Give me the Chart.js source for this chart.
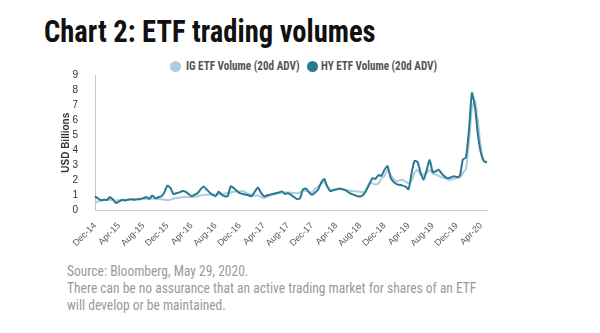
<!DOCTYPE html>
<html>
<head>
<meta charset="utf-8">
<script src="https://cdn.jsdelivr.net/npm/chart.js@4.4.1/dist/chart.umd.min.js"></script>
<style>
  html, body { margin:0; padding:0; background:#fff; width:600px; height:333px; overflow:hidden; }
  .cond { font-family:"Roboto Condensed","DejaVu Sans Condensed","Liberation Sans",sans-serif; white-space:nowrap; position:absolute; transform-origin:0 0; }
  #title { left:44px; top:12px; font-weight:bold; font-size:32px; color:#111; }
  #wrap { position:absolute; left:0; top:60px; width:600px; height:192px; }
  #legend { position:absolute; left:0; top:58px; width:600px; height:16px; }
  .dot { position:absolute; top:2.5px; width:11px; height:11px; border-radius:50%; }
  .lt { top:0px; font-size:12.5px; line-height:16px; font-weight:bold; color:#555; }
  .nl { left:67px; font-size:15px; line-height:17px; color:#9a9a9a; }
</style>
</head>
<body>
<div id="title" class="cond">Chart 2: ETF trading volumes</div>
<div id="legend"></div>
<div id="wrap"><canvas id="c"></canvas></div>
<div id="note"></div>
<script>
// Semi-monthly observations starting Dec-14
const startYear = 2014, startMonth = 11; // December 2014
const tickLabels = ["Dec-14","Apr-15","Aug-15","Dec-15","Apr-16","Aug-16","Dec-16","Apr-17","Aug-17","Dec-17","Apr-18","Aug-18","Dec-18","Apr-19","Aug-19","Dec-19","Apr-20"];
const seriesNames = ["IG ETF Volume (20d ADV)", "HY ETF Volume (20d ADV)"];
const seriesColors = ["#a9cfdd", "#2b7891"];
const noteLines = ["Source: Bloomberg, May 29, 2020.", "There can be no assurance that an active trading market for shares of an ETF", "will develop or be maintained."];
const igVolume = [
  0.53,0.60,0.68,0.70,0.70,0.72,0.70,0.65,0.68,0.72,0.72,0.73,0.75,0.74,0.76,0.75,
  0.76,0.78,0.77,0.80,0.78,0.76,0.75,0.72,0.70,0.72,0.80,0.82,0.85,0.88,0.90,0.88,
  0.89,0.92,0.95,1.00,1.05,1.05,1.05,1.05,1.05,1.10,1.10,1.12,1.16,1.20,1.25,1.30,
  1.27,1.30,1.20,1.10,1.05,1.00,1.00,0.90,0.82,0.90,1.00,1.05,1.10,1.15,1.20,1.19,
  1.20,1.18,1.16,1.15,1.20,1.35,1.30,1.25,1.20,1.45,1.60,1.75,1.90,1.60,1.40,1.38,
  1.40,1.42,1.40,1.36,1.33,1.30,1.28,1.26,1.25,1.20,1.45,1.82,1.80,1.72,1.80,2.10,
  2.30,2.70,2.40,2.10,1.93,2.00,2.04,1.90,1.82,2.00,2.50,2.70,2.35,2.40,2.50,2.70,
  2.45,2.38,2.30,2.20,2.15,2.05,2.05,2.10,2.15,2.20,2.50,2.75,4.50,6.80,7.30,5.90,
  4.10,3.30,3.25
];
const hyVolume = [
  0.94,0.80,0.68,0.72,0.70,0.90,0.72,0.50,0.60,0.70,0.67,0.72,0.75,0.72,0.74,0.76,
  0.82,0.90,0.78,1.00,0.82,0.88,0.95,1.20,1.65,1.50,1.10,1.15,1.20,1.30,1.25,1.10,
  0.95,1.05,1.15,1.40,1.60,1.40,1.20,1.05,0.95,1.25,1.05,0.95,0.95,1.60,1.50,1.30,
  1.15,1.10,1.05,1.00,0.95,1.25,1.52,1.20,0.95,1.00,1.05,1.10,1.15,1.20,1.27,1.10,
  1.15,1.04,0.90,0.75,0.82,1.40,1.45,1.20,1.05,1.20,1.40,1.85,2.10,1.60,1.28,1.35,
  1.40,1.46,1.42,1.35,1.22,1.10,1.03,0.95,0.93,1.05,1.35,1.75,2.15,2.10,2.35,2.30,
  2.70,2.95,2.20,1.90,1.75,1.70,1.65,1.58,1.42,2.50,3.30,3.20,2.50,2.05,2.70,3.35,
  2.55,2.60,2.70,2.45,2.25,2.15,2.20,2.28,2.22,2.30,3.40,3.50,5.30,7.80,6.90,5.00,
  3.80,3.25,3.20
];
const monthNames = ["Jan","Feb","Mar","Apr","May","Jun","Jul","Aug","Sep","Oct","Nov","Dec"];
const periods = hyVolume.map((_, i) => {
  const mi = startMonth + Math.floor(i / 2);
  const y = startYear + Math.floor(mi / 12);
  return monthNames[mi % 12] + "-" + String(y).slice(2);
});

function fitWidth(el, w) { el.style.transform = 'scaleX(' + (w / el.offsetWidth) + ')'; }
fitWidth(document.getElementById('title'), 332);

// legend (HTML)
const legend = document.getElementById('legend');
const legendPos = [[170, 186, 114], [307, 321, 116]];
seriesNames.forEach((name, k) => {
  const d = document.createElement('div'); d.className = 'dot';
  d.style.left = legendPos[k][0] + 'px'; d.style.background = seriesColors[k];
  legend.appendChild(d);
  const t = document.createElement('div'); t.className = 'cond lt'; t.textContent = name;
  t.style.left = legendPos[k][1] + 'px';
  legend.appendChild(t);
  fitWidth(t, legendPos[k][2]);
});

// note lines, one shared horizontal scale set by the first line
const note = document.getElementById('note');
const spans = noteLines.map((txt, k) => {
  const s = document.createElement('div'); s.className = 'cond nl'; s.textContent = txt;
  s.style.top = (263 + k * 17) + 'px';
  note.appendChild(s); return s;
});
const noteScale = 181 / spans[0].offsetWidth;
spans.forEach(s => { s.style.transform = 'scaleX(' + noteScale + ')'; });

new Chart(document.getElementById('c'), {
  type: 'line',
  data: {
    labels: periods,
    datasets: [
      { label: seriesNames[0], data: igVolume, borderColor: seriesColors[0], borderWidth: 2, pointRadius: 0, tension: 0.2, order: 2 },
      { label: seriesNames[1], data: hyVolume, borderColor: seriesColors[1], borderWidth: 2, pointRadius: 0, tension: 0.2, order: 1 }
    ]
  },
  options: {
    responsive: true, maintainAspectRatio: false, animation: false,
    layout: { padding: { left: 60, right: 113, top: 15, bottom: 0 } },
    plugins: { legend: { display: false }, tooltip: { enabled: false } },
    scales: {
      x: {
        grid: { display: false },
        border: { display: true, color: '#c8c8c8', width: 1 },
        afterFit: s => { s.height = 41.5; },
        ticks: {
          autoSkip: false, maxRotation: 45, minRotation: 45, padding: 2,
          color: '#555', font: { family: 'Liberation Sans, sans-serif', size: 9 },
          callback: function(v, i) { return (i % 8 === 0) ? tickLabels[i / 8] : null; }
        }
      },
      y: {
        min: 0, max: 9,
        grid: { display: false },
        border: { display: true, color: '#c8c8c8', width: 1 },
        afterFit: s => { s.width = 35; },
        ticks: { stepSize: 1, autoSkip: false, color: '#333', padding: 9, font: { family: 'Liberation Sans, sans-serif', size: 10 } },
        title: { display: true, text: 'USD Billions', color: '#333', padding: 0, font: { family: 'Liberation Sans, sans-serif', size: 10, weight: 'bold' } }
      }
    }
  }
});
</script>
</body>
</html>
